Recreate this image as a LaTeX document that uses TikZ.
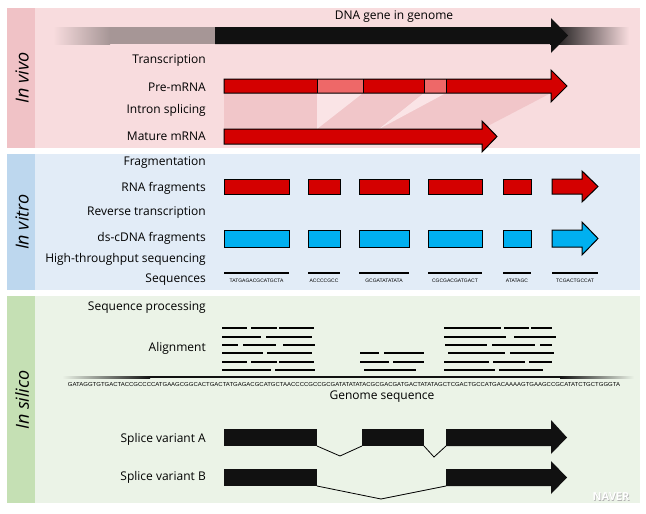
\documentclass[tikz,border=0pt]{standalone}
\usepackage{fontspec}
\setmainfont{Open Sans}
\newfontfamily\seqfont{Liberation Sans}
\definecolor{vivobg}{HTML}{F8DCDE}
\definecolor{vivostrip}{HTML}{F0C2C6}
\definecolor{vitrobg}{HTML}{E2ECF7}
\definecolor{vitrostrip}{HTML}{BDD7EE}
\definecolor{silicobg}{HTML}{EBF3E7}
\definecolor{silicostrip}{HTML}{C5E0B4}
\definecolor{rnared}{HTML}{D40000}
\definecolor{intronpink}{HTML}{EE6868}
\definecolor{cdnablue}{HTML}{00B0F0}
\definecolor{splshade}{HTML}{F1C6C9}
\definecolor{spllight}{HTML}{FAE4E6}
\definecolor{dnagrey}{HTML}{A69696}
\definecolor{barblack}{HTML}{111111}
\tikzset{
  lab/.style={anchor=east, inner sep=0pt, font=\fontsize{12}{14}\selectfont},
  striplab/.style={rotate=90, inner sep=0pt, font=\itshape\fontsize{18}{20}\selectfont},
  seqtxt/.style={inner sep=0pt, font=\seqfont\fontsize{5}{6}\selectfont},
  outl/.style={draw=black, line width=1pt, line join=miter},
  read/.style={line width=1.8pt},
  seqline/.style={line width=1.2pt},
  intronline/.style={line width=0.8pt},
}
\begin{document}
\begin{tikzpicture}[x=1pt,y=-1pt]
\useasboundingbox (0,0) rectangle (646,514);
\fill[white] (0,0) rectangle (646,514);
% panels
\fill[vivobg] (7,8) rectangle (640,148);
\fill[vivostrip] (7,8) rectangle (35,148);
\fill[vitrobg] (7,154) rectangle (640,290);
\fill[vitrostrip] (7,154) rectangle (35,290);
\fill[silicobg] (7,296) rectangle (640,503);
\fill[silicostrip] (7,296) rectangle (35,503);
\node[striplab] (vivo) at (22,78) {In vivo};
\node[striplab] (vitro) at (22,222) {In vitro};
\node[striplab] (silico) at (22,400) {In silico};

% ---------- in vivo ----------
\node[inner sep=0pt, font=\fontsize{12}{14}\selectfont] (dna) at (394,17) {DNA gene in genome};
\shade[left color=vivobg, right color=dnagrey] (53,27) rectangle (110,44);
\fill[dnagrey] (109.5,27) rectangle (216,44);
\shade[left color=barblack, right color=vivobg] (550,27) rectangle (629,44);
\fill[barblack] (215,27) -- (551,27) -- (551,18) -- (568,35.5) -- (551,53) -- (551,44) -- (215,44) -- cycle;

\node[lab] (transcription) at (206,61) {Transcription};
\node[lab] (premrna) at (206,87) {Pre-mRNA};
\node[lab] (splicing) at (206,110) {Intron splicing};
\node[lab] (mature) at (206,136) {Mature mRNA};

% splicing shading
\fill[splshade] (224,93) -- (551,93) -- (482,129) -- (224,129) -- cycle;
\fill[spllight] (317,93) -- (363,93) -- (317,129) -- cycle;
\fill[spllight] (424,93) -- (446,93) -- (379,129) -- cycle;

% pre-mRNA
\fill[rnared] (224,79) -- (551,79) -- (551,70) -- (567,86) -- (551,102) -- (551,93) -- (224,93) -- cycle;
\fill[intronpink] (317,79) rectangle (363,93);
\fill[intronpink] (424,79) rectangle (446,93);
\draw[outl] (224,79) -- (551,79) -- (551,70) -- (567,86) -- (551,102) -- (551,93) -- (224,93) -- cycle;
\draw[outl] (317,79) -- (317,93) (363,79) -- (363,93) (424,79) -- (424,93) (446,79) -- (446,93);

% mature mRNA
\draw[outl, fill=rnared] (224,129) -- (482,129) -- (482,121) -- (497,136.5) -- (482,152) -- (482,144) -- (224,144) -- cycle;

% ---------- in vitro ----------
\node[lab] (frag) at (206,163) {Fragmentation};
\node[lab] (rnafrag) at (206,188) {RNA fragments};
\node[lab] (rt) at (206,213) {Reverse transcription};
\node[lab] (cdna) at (206,238) {ds-cDNA fragments};
\node[lab] (hts) at (206,259) {High-throughput sequencing};
\node[lab] (seqs) at (206,280) {Sequences};

\foreach \a/\b in {224/289, 308/340, 359/409, 428/482, 503/531}{
  \draw[outl, fill=rnared] (\a,179) rectangle (\b,194);
  \draw[outl, fill=cdnablue] (\a,230) rectangle (\b,247);
  \draw[seqline] (\a,273) -- (\b,273);
}
\draw[outl, fill=rnared] (552,179) -- (582,179) -- (582,171) -- (598,186.5) -- (582,202) -- (582,194) -- (552,194) -- cycle;
\draw[outl, fill=cdnablue] (552,230) -- (582,230) -- (582,222) -- (598,238.5) -- (582,255) -- (582,247) -- (552,247) -- cycle;
\draw[seqline] (552,273) -- (598,273);

\node[seqtxt] (s1) at (256.5,281) {TATGAGACGCATGCTA};
\node[seqtxt] (s2) at (324,281) {ACCCCGCC};
\node[seqtxt] (s3) at (384,281) {GCGATATATATA};
\node[seqtxt] (s4) at (455,281) {CGCGACGATGACT};
\node[seqtxt] (s5) at (517,281) {ATATAGC};
\node[seqtxt] (s6) at (575,281) {TCGACTGCCAT};

% ---------- in silico ----------
\node[lab] (seqproc) at (206,308) {Sequence processing};
\node[lab] (align) at (206,348) {Alignment};

% reads group 1
\draw[read] (222,328) -- (247,328) (251,328) -- (277,328) (279,328) -- (314,328);
\draw[read] (222,337) -- (261,337) (266,337) -- (312,337);
\draw[read] (222,345) -- (238,345) (243,345) -- (276,345) (283,345) -- (315,345);
\draw[read] (222,353) -- (263,353) (267,353) -- (312,353);
\draw[read] (222,362) -- (247,362) (251,362) -- (277,362) (279,362) -- (314,362);
\draw[read] (222,370) -- (271,370) (275,370) -- (315,370);
% reads group 2
\draw[read] (360,353) -- (379,353) (384,353) -- (424,353);
\draw[read] (360,362) -- (389,362) (393,362) -- (424,362);
\draw[read] (364,370) -- (416,370);
% reads group 3
\draw[read] (444,328) -- (501,328) (504,328) -- (529,328) (531,328) -- (552,328);
\draw[read] (444,337) -- (506,337) (514,337) -- (556,337);
\draw[read] (445,345) -- (487,345) (492,345) -- (535,345) (540,345) -- (552,345);
\draw[read] (448,353) -- (505,353) (510,353) -- (554,353);
\draw[read] (444,362) -- (489,362) (493,362) -- (525,362) (529,362) -- (552,362);
\draw[read] (444,370) -- (495,370) (499,370) -- (543,370);

% genome line
\shade[left color=silicobg, right color=barblack] (62,376) rectangle (150,378.3);
\fill[barblack] (149.5,376) rectangle (560.5,378.3);
\shade[left color=barblack, right color=silicobg] (560,376) rectangle (634,378.3);
\node[seqtxt] (genome) at (344,385) {\resizebox{552pt}{4pt}{GATAGGTGTGACTACCGCCCCATGAAGCGGCACTGACTATGAGACGCATGCTAACCCCGCCGCGATATATATACGCGACGATGACTATATAGCTCGACTGCCATGACAAAAGTGAAGCCGCATATCTGCTGGGTA}};
\node[inner sep=0pt, font=\fontsize{12}{14}\selectfont] (genomelab) at (382,397) {Genome sequence};

% splice variants
\node[lab] (varA) at (206,439) {Splice variant A};
\node[lab] (varB) at (206,477) {Splice variant B};
\fill[barblack] (224,429) rectangle (317,446);
\fill[barblack] (362,429) rectangle (424,446);
\fill[barblack] (446,429) -- (551,429) -- (551,420) -- (567,437.5) -- (551,454) -- (551,446) -- (446,446) -- cycle;
\draw[intronline] (317,446) -- (340,456) -- (362,446);
\draw[intronline] (424,446) -- (434,457) -- (446,446);

\fill[barblack] (224,469) rectangle (317,486);
\fill[barblack] (446,469) -- (551,469) -- (551,461) -- (567,477.5) -- (551,494) -- (551,486) -- (446,486) -- cycle;
\draw[intronline] (317,486) -- (381,499) -- (446,486);

% watermark
\node[inner sep=0pt, text=black!30, font=\bfseries\fontsize{11}{13}\selectfont] (naverS) at (611.7,497.7) {NAVER};
\node[inner sep=0pt, text=white, font=\bfseries\fontsize{11}{13}\selectfont] (naver) at (611,497) {NAVER};
\end{tikzpicture}
\end{document}
